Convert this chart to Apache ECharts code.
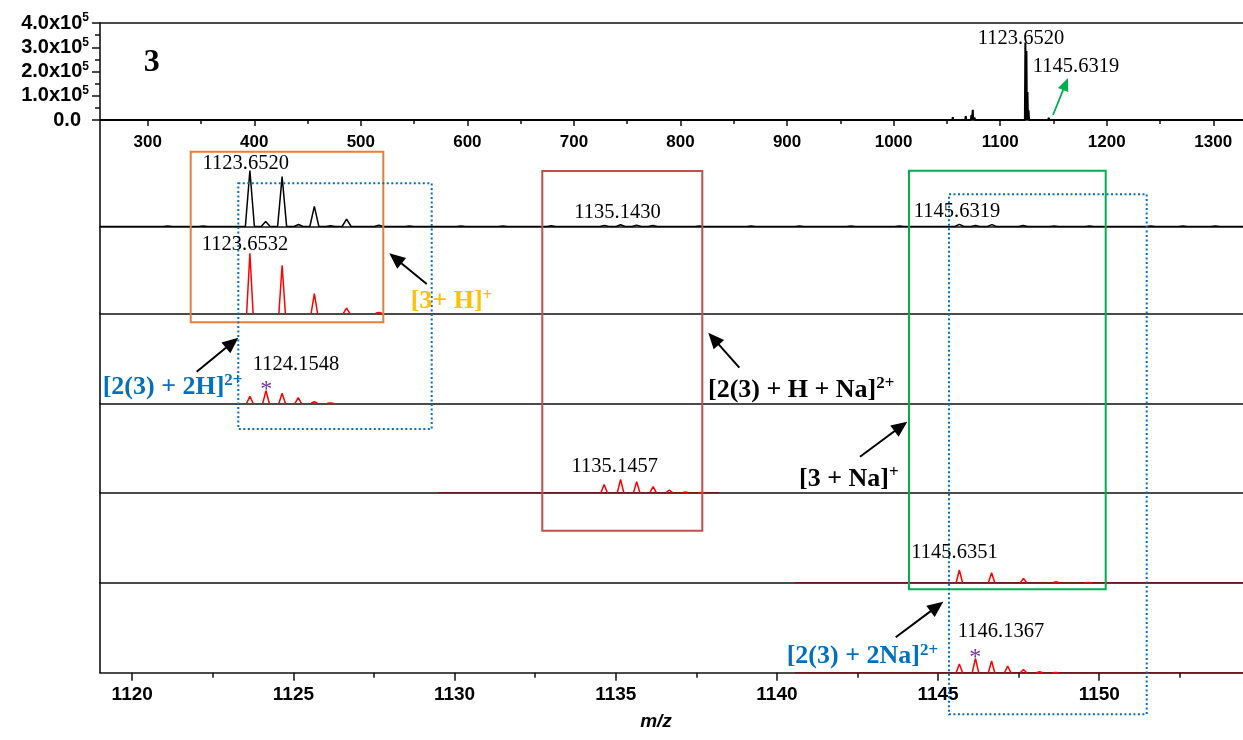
<!DOCTYPE html>
<html>
<head>
<meta charset="utf-8">
<script src="https://cdn.jsdelivr.net/npm/echarts@6/dist/echarts.min.js"></script>
<style>
html,body{margin:0;padding:0;background:#fff;}
#chart{width:1243px;height:740px;}
</style>
</head>
<body>
<div id="chart"></div>
<script>
// ---------------- DATA ----------------
// Survey spectrum (top panel): [m/z, intensity (counts)]
const surveyPeaks = [
  [870,0.02e5],[884,0.02e5],[905,0.03e5],[918,0.02e5],[935,0.03e5],[948,0.02e5],
  [963.5,0.06e5],[982,0.03e5],[1000,0.02e5],[1012,0.03e5],[1025,0.02e5],[1040,0.03e5],
  [1055.5,0.12e5],[1061,0.05e5],[1067.7,0.16e5],[1073,0.2e5],[1074.3,0.42e5],[1076,0.1e5],
  [1090,0.03e5],[1101,0.03e5],[1112,0.03e5],
  [1123.65,3.2e5],[1124.65,2.85e5],[1125.65,1.15e5],[1126.65,0.4e5],
  [1134.1,0.06e5],[1135.1,0.07e5],[1145.6,0.1e5],[1146.6,0.08e5],[1154,0.03e5],
  [1170,0.02e5],[1196,0.06e5],[1206,0.02e5],[1221.6,0.05e5],[1240,0.02e5],[1262,0.02e5],
  [1293.6,0.05e5],[1304,0.03e5]
];
const surveyXLabels = [300,400,500,600,700,800,900,1000,1100,1200,1300];
const surveyXMinor  = [350,450,550,650,750,850,950,1050,1150,1250];

// Zoomed experimental spectrum (band 1, black): [m/z, relative intensity %]
const expPeaks = [
  [1121.1,1],[1122.2,1],[1123.65,100],[1124.14,9],[1124.65,89],[1125.16,3.5],
  [1125.65,36],[1126.15,1.5],[1126.65,13],[1127.65,2.5],[1128.6,1],[1130.2,1],
  [1131.5,1],[1133.0,1.2],[1134.65,2],[1135.15,3],[1135.65,2.5],[1136.15,1.8],
  [1137.6,1],[1139.2,1.1],[1140.7,1],[1142.3,1],[1143.8,1.1],[1145.66,3.8],
  [1146.16,1.6],[1146.67,3.4],[1147.64,1.8],[1148.6,1.1],[1149.7,1],[1151.6,1.1],
  [1152.6,1.1],[1153.6,1]
];
// Simulated isotope patterns (red): [m/z, relative intensity %]
const simH    = [[1123.65,100],[1124.65,80],[1125.65,33],[1126.65,8.5],[1127.65,1.5]];           // [3 + H]+
const sim2H   = [[1123.65,55],[1124.15,100],[1124.65,79],[1125.15,45],[1125.65,12],[1126.15,3]]; // [2(3) + 2H]2+
const simHNa  = [[1134.64,62],[1135.15,100],[1135.65,83],[1136.16,45],[1136.66,20],[1137.16,5],[1137.66,1]]; // [2(3)+H+Na]2+
const simNa   = [[1145.66,100],[1146.66,79],[1147.65,34],[1148.66,8],[1149.66,2]];              // [3 + Na]+
const sim2Na  = [[1145.66,61],[1146.16,100],[1146.66,82],[1147.16,47],[1147.65,23],[1148.15,7],[1148.65,2]]; // [2(3)+2Na]2+
// m/z spans of the simulated traces' flat baselines (null = none visible)
const simSpans = [null,null,[1129.5,1138.2],[1140.56,1154.46],[1140.56,1154.46]];

const zoomXLabels = [1120,1125,1130,1135,1140,1145,1150];
const zoomXMinor  = [1122.5,1127.5,1132.5,1137.5,1142.5,1147.5,1152.5];

const peakLabels = ['1123.6520','1145.6319','1123.6520','1135.1430','1145.6319','1123.6532','1124.1548','1135.1457','1145.6351','1146.1367'];
const ionLabels = ['[3+ H]','[2(3) + 2H]','[2(3) + H + Na]','[3 + Na]','[2(3) + 2Na]'];
const ionCharges = ['+','2+','2+','+','2+'];

// ---------------- LAYOUT ----------------
const SERIF = '"Liberation Serif","Times New Roman",serif';
const SANS = '"Liberation Sans",Arial,sans-serif';
const L = 100, W = 1143;
const topMin = 255.2, topMax = 1327.9;
const zMin = 1119.0, zMax = 1154.46;
const bands = [[120,226.5],[226.5,313.3],[313.3,403.3],[403.3,492.7],[492.7,582.7],[582.7,672.7]];
const bandYMax = [190,144.7,709,672,709,629];

// peaks -> line profile; gaps=true leaves the baseline between peaks undrawn
function profile(peaks, halfW, span, gaps){
  const pts = [];
  if (span) pts.push([span[0],0]);
  peaks.slice().sort((a,b)=>a[0]-b[0]).forEach((p,i)=>{
    if (gaps && i>0) pts.push([p[0]-halfW*1.5,null]);
    pts.push([p[0]-halfW,0],[p[0],p[1]],[p[0]+halfW,0]);
  });
  if (span) pts.push([span[1],0]);
  return pts;
}
const plain = v => String(v);

const grids = [{left:L, top:23, width:W, height:97, outerBoundsMode:'none'}];
bands.forEach(b=>grids.push({left:L, top:b[0], width:W, height:b[1]-b[0], outerBoundsMode:'none'}));

const axisLineStyle = {color:'#111', width:1.6};
const xAxes = [
  {type:'value', gridIndex:0, min:topMin, max:topMax, position:'bottom',
   axisLine:{show:true, onZero:false, lineStyle:axisLineStyle},
   axisTick:{show:true, length:6, lineStyle:{color:'#111',width:1.5}, customValues:surveyXLabels},
   axisLabel:{show:true, customValues:surveyXLabels, formatter:plain, margin:14, fontFamily:SANS, fontWeight:'bold', fontSize:17, color:'#000'},
   splitLine:{show:false}},
  {type:'value', gridIndex:0, min:topMin, max:topMax, position:'bottom',
   axisLine:{show:false}, axisTick:{show:true, length:4, lineStyle:{color:'#111',width:1.5}, customValues:surveyXMinor},
   axisLabel:{show:false}, splitLine:{show:false}},
  {type:'value', gridIndex:0, min:topMin, max:topMax, position:'top',
   axisLine:{show:true, onZero:false, lineStyle:axisLineStyle}, axisTick:{show:false}, axisLabel:{show:false}, splitLine:{show:false}}
];
bands.forEach((b,i)=>{
  const last = i === bands.length-1;
  xAxes.push({type:'value', gridIndex:i+1, min:zMin, max:zMax, position:'bottom',
    axisLine:{show:true, onZero:false, lineStyle:axisLineStyle},
    axisTick:{show:last, length:8, lineStyle:{color:'#111',width:1.5}, customValues:zoomXLabels},
    axisLabel:{show:last, customValues:zoomXLabels, formatter:plain, margin:13, fontFamily:SANS, fontWeight:'bold', fontSize:19, color:'#000'},
    splitLine:{show:false}});
});
xAxes.push({type:'value', gridIndex:6, min:zMin, max:zMax, position:'bottom',
  axisLine:{show:false}, axisTick:{show:true, length:5, lineStyle:{color:'#111',width:1.5}, customValues:zoomXMinor},
  axisLabel:{show:false}, splitLine:{show:false}});

const yAxes = [{type:'value', gridIndex:0, min:0, max:4e5, interval:1e5,
  axisLine:{show:true, onZero:false, lineStyle:axisLineStyle},
  axisTick:{show:true, length:8, lineStyle:{color:'#111',width:1.5}},
  minorTick:{show:true, splitNumber:2, length:5, lineStyle:{color:'#111',width:1.5}},
  splitLine:{show:false}, minorSplitLine:{show:false},
  axisLabel:{show:true, margin:11, color:'#000',
    formatter:v=> v===0 ? '{n|0.0}{p|}' : '{n|'+(v/1e5).toFixed(1)+'x10}{s|5}',
    rich:{n:{fontFamily:SANS, fontWeight:'bold', fontSize:20, color:'#000', lineHeight:22},
          s:{fontFamily:SANS, fontWeight:'bold', fontSize:12, color:'#000', verticalAlign:'top', lineHeight:12},
          p:{width:8}}}
}];
bands.forEach((b,i)=>{
  yAxes.push({type:'value', gridIndex:i+1, min:0, max:bandYMax[i],
    axisLine:{show:true, onZero:false, lineStyle:axisLineStyle},
    axisTick:{show:false}, axisLabel:{show:false}, splitLine:{show:false}});
});

function lineSeries(data, xi, yi, color, width, z){
  return {type:'line', xAxisIndex:xi, yAxisIndex:yi, data:data, symbol:'none', connectNulls:false,
    lineStyle:{color:color, width:width}, itemStyle:{color:color}, animation:false, silent:true, z:z||3};
}
const simSets = [simH, sim2H, simHNa, simNa, sim2Na];
const series = [
  lineSeries(profile(surveyPeaks,0.45,[topMin,topMax],false),0,0,'#000',2),
  lineSeries(profile(expPeaks,0.14,[zMin,zMax],false),3,1,'#000',1.5)
];
simSets.forEach((s,i)=>{
  if (simSpans[i]) series.push(lineSeries([[simSpans[i][0],0],[simSpans[i][1],0]],4+i,2+i,'#6a1c1c',1.6,4));
  series.push(lineSeries(profile(s,0.1,null,true),4+i,2+i,'#ff0000',1.5,5));
});

// ---------------- ANNOTATIONS ----------------
const g = [];
function rect(x,y,w,h,color,dotted){
  g.push({type:'rect', shape:{x:x,y:y,width:w,height:h}, z:10,
    style:{fill:null, stroke:color, lineWidth:2, lineDash: dotted ? [2,2.5] : null}});
}
function arrow(x1,y1,x2,y2,color,lw,hl,hw){
  const dx=x2-x1, dy=y2-y1, len=Math.sqrt(dx*dx+dy*dy), ux=dx/len, uy=dy/len;
  const bx=x2-ux*hl, by=y2-uy*hl;
  g.push({type:'line', z:11, shape:{x1:x1,y1:y1,x2:bx+ux*2,y2:by+uy*2}, style:{stroke:color, lineWidth:lw}});
  g.push({type:'polygon', z:11, shape:{points:[[x2,y2],[bx-uy*hw,by+ux*hw],[bx+uy*hw,by-ux*hw]]}, style:{fill:color}});
}
function txt(s,x,y,size,color,weight){
  g.push({type:'text', z:12, x:x, y:y, style:{text:s, fontFamily:SERIF, fontSize:size, fontWeight:weight||'normal', fill:color,
    align:'center', verticalAlign:'middle', textAlign:'center', textVerticalAlign:'middle'}});
}
function ion(main,sup,x,y,color){
  g.push({type:'text', z:12, x:x, y:y, style:{text:'{a|'+main+'}{b|'+sup+'}', fill:color,
    align:'left', verticalAlign:'middle', textAlign:'left', textVerticalAlign:'middle',
    rich:{a:{fontFamily:SERIF, fontWeight:'bold', fontSize:26, fill:color, color:color, lineHeight:30},
          b:{fontFamily:SERIF, fontWeight:'bold', fontSize:17, fill:color, color:color, lineHeight:14, verticalAlign:'top'}}}});
}

rect(190.7,151.7,192.6,170.6,'#ED7D31',false);
rect(238.3,183.3,193.4,245.7,'#0070C0',true);
rect(542.3,171,160,359.7,'#C0504D',false);
rect(909,170.7,196.7,418.6,'#00B050',false);
rect(949,194.3,197.7,520,'#0070C0',true);

arrow(426.7,284,389.3,253.3,'#000',2,16,7);
arrow(196.7,371.7,238.3,337.7,'#000',2,16,7);
arrow(739.3,367.7,708.3,332.7,'#000',2,16,7);
arrow(860,456.7,907.3,421.7,'#000',2,16,7);
arrow(895.7,637.3,943.3,601.7,'#000',2,16,7);
arrow(1053,115,1068,78,'#00B050',1.8,13,5.5);

txt('3',151.7,63,32,'#000','bold');
const pl = [[1021,39],[1076,67],[245.7,164],[617.5,212.7],[957,211.7],[245,245],[296,365],[614.7,466.7],[954.5,553],[1001,631.7]];
peakLabels.forEach((s,i)=>txt(s,pl[i][0],pl[i][1],20.5,'#000'));
txt('*',266.3,390,24,'#7030A0');
txt('*',975.3,658,24,'#7030A0');

ion(ionLabels[0],ionCharges[0],410.7,301.7,'#FFC000');
ion(ionLabels[1],ionCharges[1],102.7,387.3,'#0070C0');
ion(ionLabels[2],ionCharges[2],708,390,'#000');
ion(ionLabels[3],ionCharges[3],799,479.3,'#000');
ion(ionLabels[4],ionCharges[4],786.7,656.7,'#0070C0');

g.push({type:'text', z:12, x:656, y:722, style:{text:'m/z', fontFamily:SANS, fontWeight:'bold', fontStyle:'italic', fontSize:19, fill:'#000',
  align:'center', verticalAlign:'middle', textAlign:'center', textVerticalAlign:'middle'}});

const chart = echarts.init(document.getElementById('chart'), null, {renderer:'canvas'});
chart.setOption({
  animation:false,
  backgroundColor:'#fff',
  grid:grids, xAxis:xAxes, yAxis:yAxes, series:series, graphic:g
});
</script>
</body>
</html>
